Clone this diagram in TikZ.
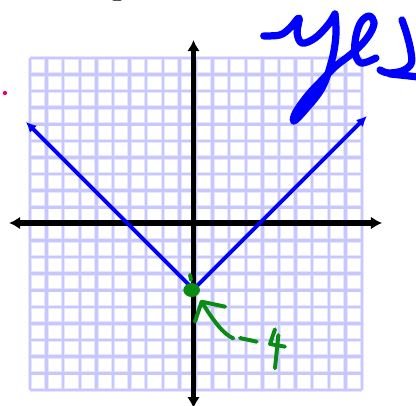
\documentclass[tikz,border=0pt]{standalone}
\usepackage{tikz}
\usetikzlibrary{arrows.meta, positioning}
\definecolor{gridblue}{RGB}{200,200,255}
\definecolor{gridhalo}{RGB}{230,230,255}
\definecolor{inkblue}{RGB}{0,0,255}
\definecolor{inkgreen}{RGB}{10,140,20}
\definecolor{inkpink}{RGB}{230,0,110}

\begin{document}
\begin{tikzpicture}[x=0.5cm, y=0.5cm,
    axis/.style={line width=4.8pt, {Latex[length=9.5pt,width=11pt]}-{Latex[length=9.5pt,width=11pt]}},
    graph/.style={inkblue, line width=3.4pt, -{Latex[length=9pt,width=8.5pt]}},
    pen/.style={inkgreen, line width=3.4pt, line cap=round, line join=round},
    bigpen/.style={inkblue, line width=6.2pt, line cap=round, line join=round}]
      \useasboundingbox (-11.657,-11.024) rectangle (13.404,13.434);

      % grid paper
      \draw[gridhalo, line width=3.8pt, step=0.5cm, shift={(-9.85,-10.05)}] (0,0) grid (20,20);
      \draw[gridblue, line width=2.2pt, step=0.5cm, shift={(-9.85,-10.05)}] (0,0) grid (20,20);

      % axes
      \coordinate (O) at (0,0);
      \coordinate (xl) at (-11.11,0);
      \coordinate (xr) at (11.36,0);
      \coordinate (yt) at (0,11.02);
      \coordinate (yb) at (0,-11.15);
      \draw[axis] (xl) -- (xr);
      \draw[axis] (yb) -- (yt);

      % the graph
      \coordinate (vertex) at (0,-4);
      \coordinate (leftend) at (-10.1,6.1);
      \coordinate (rightend) at (10.45,6.45);
      \draw[graph] (vertex) -- (leftend);
      \draw[graph] (vertex) -- (rightend);

      % green notes
      \fill[inkgreen] (-0.11,-4.04) ellipse [x radius=0.5, y radius=0.42];
      \draw[pen] (-0.21,-3.13) -- (-0.15,-3.43);
      \coordinate (tip) at (0.49,-4.74);
      \draw[pen] (0.09,-5.95) -- (tip) -- (1.90,-5.04);
      \draw[pen] (tip) .. controls (1.2,-5.9) and (1.8,-6.7) .. (2.40,-6.95);
      \draw[pen] (2.80,-6.93) -- (3.81,-7.15);
      \draw[pen] (4.91,-6.40) -- (4.61,-7.29) -- (5.51,-7.45);
      \draw[pen] (5.11,-6.75) -- (4.91,-8.75);

      % yes
      \draw[bigpen] plot[smooth, tension=0.6] coordinates {(4.23,11.27) (5.21,11.33) (5.81,11.75) (6.36,12.35)
            (6.24,11.45) (6.54,10.84) (7.32,11.14) (8.10,11.93) (8.52,12.59)};
      \draw[bigpen] plot[smooth, tension=0.6] coordinates {(8.52,12.59) (8.58,11.33) (8.34,9.82) (7.74,8.13)
            (6.72,6.81) (6.05,6.14) (6.17,6.69) (6.90,7.71) (7.74,8.61) (8.58,9.46) (9.43,10.12)
            (10.15,10.78) (10.69,11.51) (10.87,12.11) (10.57,12.47) (10.09,12.11) (9.79,11.27)
            (9.73,10.30) (10.09,9.64) (10.99,9.94)};
      \draw[bigpen] plot[smooth, tension=0.6] coordinates {(12.56,12.23) (12.86,11.33) (13.10,10.30)
            (13.10,9.58) (12.56,9.16) (11.72,9.04) (11.24,9.22)};
      \draw[bigpen] (11.84,8.98) -- (13.52,8.80);

      % leftovers
      \fill[inkpink] (-11.36,7.83) circle (0.13);
      \node[anchor=south, inner sep=0pt, font=\fontsize{34}{40}\selectfont] (g) at (-4.55,13.3) {g};
\end{tikzpicture}
\end{document}
